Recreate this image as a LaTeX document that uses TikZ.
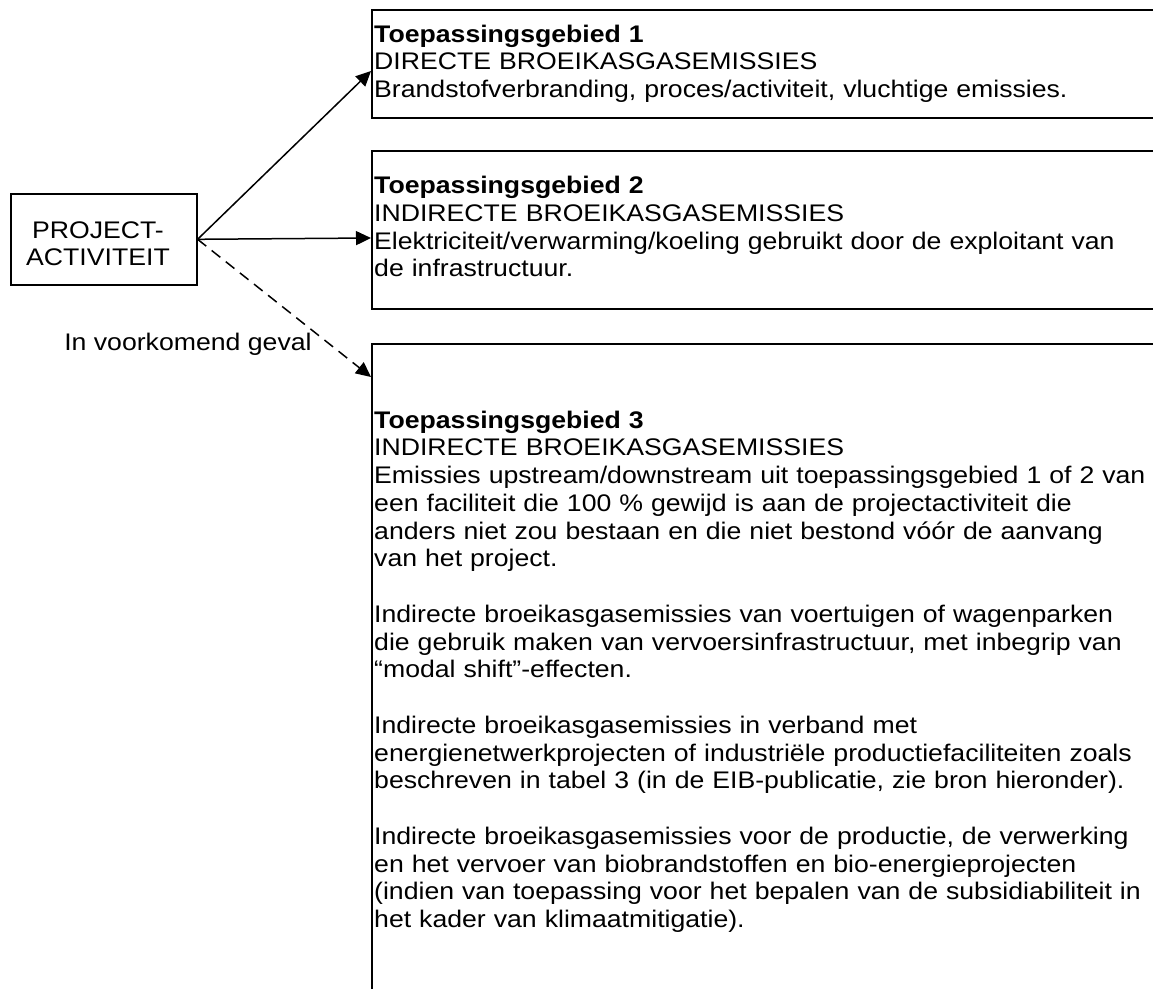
\documentclass[tikz,border=0pt]{standalone}
\usepackage{fontspec}
\setmainfont[FakeStretch=1.11]{Liberation Sans}
\usetikzlibrary{arrows.meta,calc}
\tikzset{
  frame/.style={draw=black, line width=1.6pt, rectangle, inner sep=0pt, anchor=north west},
  txt/.style={inner sep=0pt, text width=800pt, align=left, anchor=base west,
              font=\fontsize{24}{27.75}\selectfont},
  ctxt/.style={inner sep=0pt, text width=186pt, align=center, anchor=base,
              font=\fontsize{24}{27.75}\selectfont},
  conn/.style={line width=1.5pt, -{Triangle[length=15pt,width=14pt]}},
  dashconn/.style={conn, dash pattern=on 11pt off 7pt}
}
\begin{document}
\begin{tikzpicture}[x=1pt,y=-1pt]
\useasboundingbox (0,0) rectangle (1153,988);
\clip (0,0) rectangle (1153,988);
% boxes
\node[frame, minimum width=186pt, minimum height=91pt] (p) at (10,193) {};
\node[ctxt] (ptxt) at (98,238) {PROJECT-\\ACTIVITEIT};
\node[frame, minimum width=1000pt, minimum height=108pt] (b1) at (371,9) {};
\node[frame, minimum width=1000pt, minimum height=158pt] (b2) at (371,150) {};
\node[frame, minimum width=1000pt, minimum height=800pt] (b3) at (371,343) {};
% texts
\node[txt] (t1) at (374,42) {\textbf{Toepassingsgebied 1}\\
DIRECTE BROEIKASGASEMISSIES\\
Brandstofverbranding, proces/activiteit, vluchtige emissies.};
\node[txt] (t2) at (374,193.5) {\textbf{Toepassingsgebied 2}\\
INDIRECTE BROEIKASGASEMISSIES\\
Elektriciteit/verwarming/koeling gebruikt door de exploitant van\\
de infrastructuur.};
\node[txt] (t3) at (374,428) {\textbf{Toepassingsgebied 3}\\
INDIRECTE BROEIKASGASEMISSIES\\
Emissies upstream/downstream uit toepassingsgebied 1 of 2 van\\
een faciliteit die 100 \% gewijd is aan de projectactiviteit die\\
anders niet zou bestaan en die niet bestond vóór de aanvang\\
van het project.\\[27.75pt]
Indirecte broeikasgasemissies van voertuigen of wagenparken\\
die gebruik maken van vervoersinfrastructuur, met inbegrip van\\
“modal shift”-effecten.\\[27.75pt]
Indirecte broeikasgasemissies in verband met\\
energienetwerkprojecten of industriële productiefaciliteiten zoals\\
beschreven in tabel 3 (in de EIB-publicatie, zie bron hieronder).\\[27.75pt]
Indirecte broeikasgasemissies voor de productie, de verwerking\\
en het vervoer van biobrandstoffen en bio-energieprojecten\\
(indien van toepassing voor het bepalen van de subsidiabiliteit in\\
het kader van klimaatmitigatie).};
% connectors
\draw[conn] (p.east) -- ($(b1.north west)+(0,62)$);
\draw[conn] (p.east) -- ($(b2.north west)+(0,88)$);
\draw[dashconn] (p.east) -- ($(b3.north west)+(0,34)$)
  node[pos=0.806, anchor=base east, inner sep=0pt, font=\fontsize{24}{27.75}\selectfont,
       xshift=-25pt] (lbl) {In voorkomend geval};
\end{tikzpicture}
\end{document}
